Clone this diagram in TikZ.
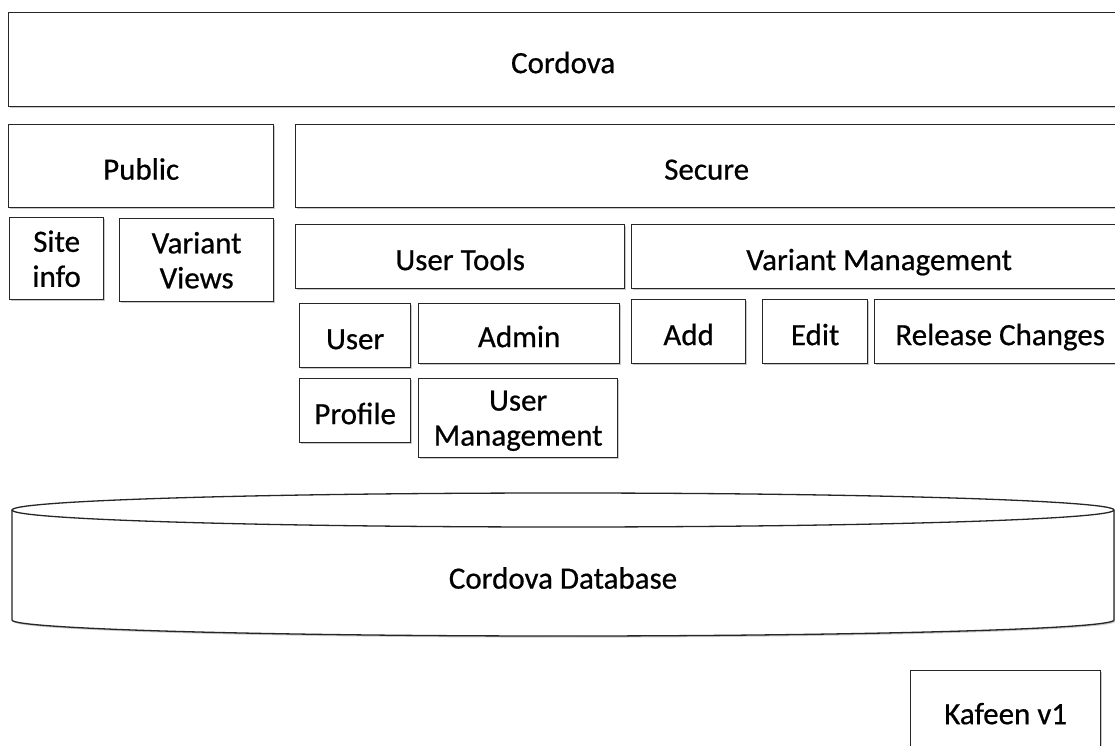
\documentclass[tikz,border=0pt]{standalone}
\usepackage{fontspec}
\setmainfont[FakeBold=0.6]{Carlito}
\usetikzlibrary{shadows}
\tikzset{
  boxbase/.style={draw=black!85, line width=1.3pt, fill=white, inner sep=0pt, anchor=north west, align=center,
    font=\fontsize{31}{35}\selectfont,
    drop shadow={shadow xshift=1.2pt, shadow yshift=-1.6pt, opacity=0.35, fill=black!60}},
  box/.style={boxbase, text height=27pt, text depth=0pt},
  boxm/.style={boxbase, text depth=-4pt},
  cyl/.style={draw=black!85, line width=1.3pt}
}
\newcommand{\bx}[6]{\node[box, minimum width=#4pt-#2pt, minimum height=#5pt-#3pt] (#1) at (#2,#3) {#6};}
\newcommand{\bxm}[6]{\node[boxm, minimum width=#4pt-#2pt, minimum height=#5pt-#3pt] (#1) at (#2,#3) {#6};}
\begin{document}
\begin{tikzpicture}[x=1pt,y=-1pt]
\clip (0,0) rectangle (1115,746);
\fill[white] (0,0) rectangle (1115,746);
\bx{cordova}{8}{12}{1117}{106}{Cordova}
\bx{public}{8}{124}{273}{207}{Public}
\bx{secure}{295}{124}{1117}{207}{Secure}
\bxm{site}{9}{217}{103}{299}{Site\\info}
\bxm{vviews}{119}{218}{273}{301}{Variant\\Views}
\bx{utools}{295}{224}{624}{288}{User Tools}
\bx{vmgmt}{631}{224}{1126}{288}{Variant Management}
\bx{user}{299}{303}{410}{367}{User}
\bx{admin}{418}{303}{619}{363}{Admin}
\bx{add}{631}{299}{745}{363}{Add}
\bx{edit}{762}{299}{867}{363}{Edit}
\bx{release}{874}{299}{1125}{363}{Release Changes}
\bx{profile}{299}{378}{410}{442}{Profile}
\bxm{umgmt}{418}{378}{617}{457}{User\\Management}
\bx{kafeen}{910}{670}{1100}{750}{Kafeen v1}
% database cylinder
\fill[black!60, opacity=0.35, xshift=1.2pt, yshift=-1.6pt]
  (12,510) arc[start angle=180, end angle=0, x radius=551, y radius=-17]
  -- (1114,620) arc[start angle=0, end angle=-180, x radius=551, y radius=-16] -- cycle;
\fill[white] (12,510) arc[start angle=180, end angle=0, x radius=551, y radius=-17]
  -- (1114,620) arc[start angle=0, end angle=-180, x radius=551, y radius=-16] -- cycle;
\draw[cyl] (12,510) -- (12,620) arc[start angle=180, end angle=360, x radius=551, y radius=-16] -- (1114,510);
\draw[cyl] (563,510) ellipse[x radius=551, y radius=17];
\node[font=\fontsize{31}{35}\selectfont] (db) at (563,578) {Cordova Database};
\end{tikzpicture}
\end{document}
